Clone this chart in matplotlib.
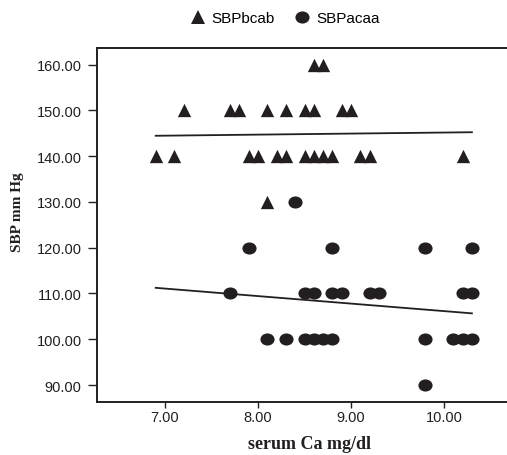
import numpy as np
import matplotlib
matplotlib.use("Agg")
import matplotlib.pyplot as plt
from matplotlib import font_manager
from matplotlib.path import Path
from matplotlib.transforms import Affine2D
from matplotlib.lines import Line2D

# ---- data ----
tri_x = [8.6, 8.7,
         7.2, 7.7, 7.8, 8.1, 8.3, 8.5, 8.6, 8.9, 9.0,
         6.9, 7.1, 7.9, 8.0, 8.2, 8.3, 8.5, 8.6, 8.7, 8.8, 9.1, 9.2, 10.2,
         8.1]
tri_y = [160, 160,
         150, 150, 150, 150, 150, 150, 150, 150, 150,
         140, 140, 140, 140, 140, 140, 140, 140, 140, 140, 140, 140, 140,
         130]
cir_x = [7.9, 8.8, 9.8, 10.3,
         8.4,
         7.7, 8.5, 8.6, 8.8, 8.9, 9.2, 9.3, 10.2, 10.3,
         8.1, 8.3, 8.5, 8.6, 8.7, 8.8, 9.8, 10.1, 10.2, 10.3,
         9.8]
cir_y = [120, 120, 120, 120,
         130,
         110, 110, 110, 110, 110, 110, 110, 110, 110,
         100, 100, 100, 100, 100, 100, 100, 100, 100, 100,
         90]
series_names = ["SBPbcab", "SBPacaa"]
x_ticks = [7, 8, 9, 10]
y_ticks = [90, 100, 110, 120, 130, 140, 150, 160]
x_label = "serum Ca mg/dl"
y_label = "SBP mm Hg"

# ---- fonts ----
names = {f.name for f in font_manager.fontManager.ttflist}
tick_font = "Liberation Sans Narrow" if "Liberation Sans Narrow" in names else "Liberation Sans"
serif_font = "Liberation Serif"
sans_font = "Liberation Sans"

W, H = 507, 456
fig = plt.figure(figsize=(W / 100, H / 100), dpi=100)
left_px, right_px, top_px, bot_px = 97, 507, 49, 403
ax = fig.add_axes([left_px / W, 1 - bot_px / H, (right_px - left_px) / W, (bot_px - top_px) / H])

ink = "#231f20"
ellipse = Path.unit_circle().transformed(Affine2D().scale(1.17, 1.0))
tri_ms = 9.6
cir_ms = 10.2

ax.scatter(tri_x, tri_y, marker="^", s=tri_ms ** 2, color=ink, linewidths=0, zorder=3)
ax.scatter(cir_x, cir_y, marker=ellipse, s=cir_ms ** 2, color=ink, linewidths=0, zorder=3)

# fit lines over overall x range
allx = np.array(tri_x + cir_x, dtype=float)
xs = np.array([allx.min(), allx.max()])
for xv, yv in [(tri_x, tri_y), (cir_x, cir_y)]:
    b, a = np.polyfit(xv, yv, 1)
    ax.plot(xs, a + b * xs, color=ink, lw=1.3, zorder=2)

# axes limits (7->165px, 10->444px ; 160->65.7px, 90->386px)
ppu_x = (444 - 165) / 3
xmin = 7 - (165 - left_px) / ppu_x
xmax = xmin + (right_px - left_px) / ppu_x
ppu_y = (386 - 65.7) / 70
ymin = 90 - (bot_px - 386) / ppu_y
ymax = 160 + (65.7 - top_px) / ppu_y
ax.set_xlim(xmin, xmax)
ax.set_ylim(ymin, ymax)

ax.set_xticks(x_ticks)
ax.set_xticklabels([f"{v:.2f}" for v in x_ticks], fontfamily=tick_font, fontsize=10.5)
ax.set_yticks(y_ticks)
ax.set_yticklabels([f"{v:.2f}" for v in y_ticks], fontfamily=tick_font, fontsize=10.5)
ax.tick_params(axis="y", direction="out", length=6.5, width=1.0, pad=4.5, colors=ink)
ax.tick_params(axis="x", direction="out", length=4.5, width=1.0, pad=1.5, colors=ink)
for s in ["left", "bottom", "top"]:
    ax.spines[s].set_linewidth(1.4)
    ax.spines[s].set_color(ink)
ax.spines["right"].set_visible(False)

fig.text(309 / W, 1 - 445 / H, x_label, ha="center", va="center",
         fontfamily=serif_font, fontweight="bold", fontsize=13, color=ink)
fig.text(18 / W, 1 - 212 / H, y_label, ha="center", va="center", rotation=90,
         fontfamily=serif_font, fontweight="bold", fontsize=11, color=ink)

handles = [
    Line2D([], [], linestyle="none", marker="^", markersize=tri_ms, color=ink, markeredgewidth=0),
    Line2D([], [], linestyle="none", marker=ellipse, markersize=cir_ms, color=ink, markeredgewidth=0),
]
fig.legend(handles, series_names, loc="center", bbox_to_anchor=(284 / W, 1 - 19 / H),
           ncol=2, frameon=False, handletextpad=0.3, columnspacing=1.2, handlelength=1.2,
           prop={"family": sans_font, "size": 11})

fig.savefig("out.png", dpi=100)
